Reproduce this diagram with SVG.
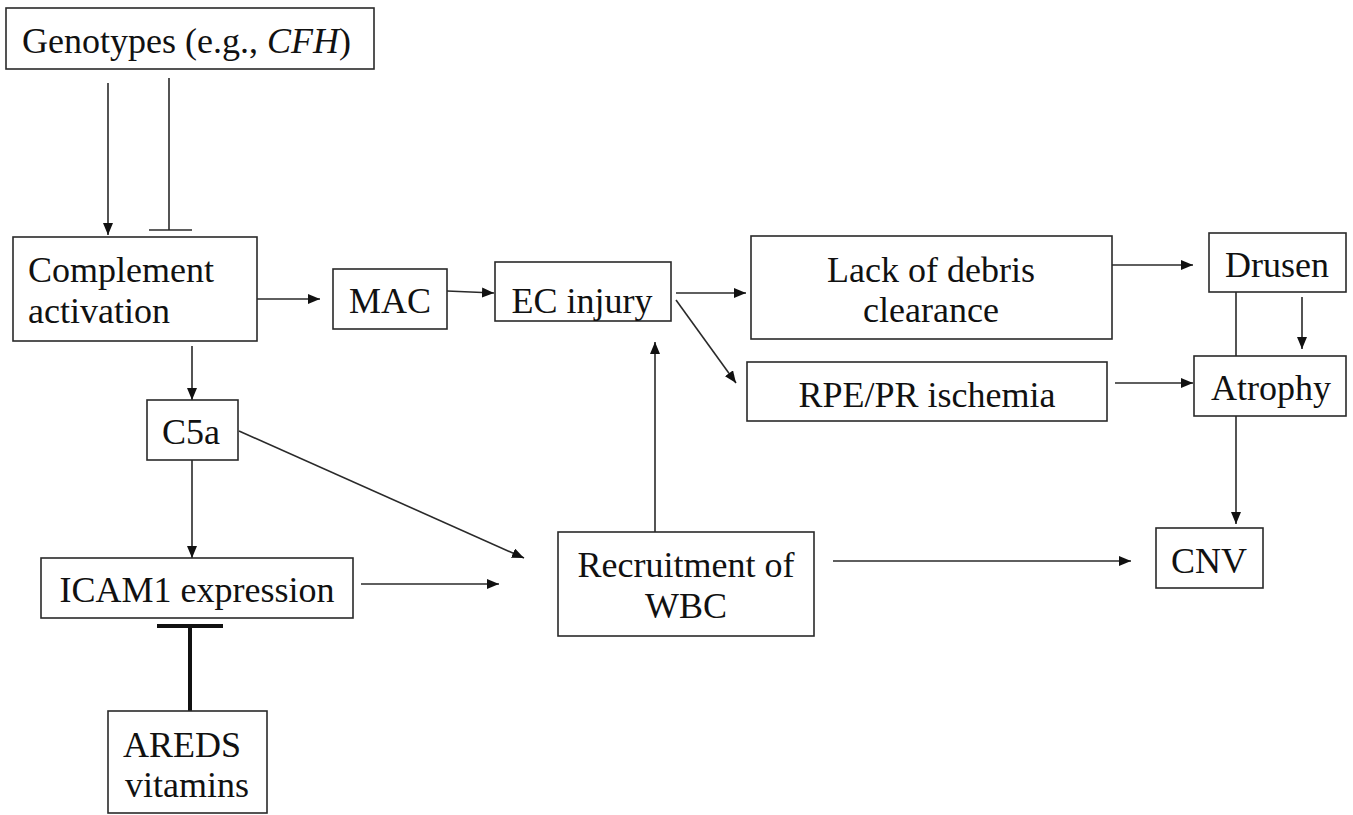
<svg xmlns="http://www.w3.org/2000/svg" width="1353" height="815" viewBox="0 0 1353 815">
<style>
.box{fill:#fff;stroke:#2a2a2a;stroke-width:1.6}
.t{font-size:36px;fill:#111}
.c{text-anchor:middle}
.ln{stroke:#2a2a2a;stroke-width:1.6;fill:none}
.ar{marker-end:url(#ah)}
.thick{stroke:#111;stroke-width:4;fill:none}
</style>
<defs>
<marker id="ah" viewBox="0 0 12 10" refX="12" refY="5" markerWidth="12" markerHeight="10" markerUnits="userSpaceOnUse" orient="auto">
<path d="M0,0 L12,5 L0,10 z" fill="#111"/>
</marker>
</defs>
<rect width="1353" height="815" fill="#fff"/>
<g id="connectors">
<line class="ln ar" x1="108" y1="83" x2="108" y2="235"/>
<line class="ln" x1="169" y1="78" x2="169" y2="230"/>
<line class="ln" x1="149" y1="230" x2="192" y2="230"/>
<line class="ln ar" x1="256" y1="299" x2="320" y2="299"/>
<line class="ln ar" x1="447" y1="291" x2="494" y2="293"/>
<line class="ln ar" x1="676" y1="293" x2="746" y2="293"/>
<line class="ln ar" x1="676" y1="300" x2="736" y2="383"/>
<line class="ln ar" x1="1112" y1="265" x2="1193" y2="265"/>
<line class="ln ar" x1="1115" y1="383" x2="1193" y2="383"/>
<line class="ln" x1="1236" y1="292" x2="1236" y2="356"/>
<line class="ln ar" x1="1302" y1="297" x2="1302" y2="349"/>
<line class="ln ar" x1="1236" y1="416" x2="1236" y2="524"/>
<line class="ln ar" x1="192" y1="346" x2="192" y2="400"/>
<line class="ln ar" x1="192" y1="460" x2="192" y2="558"/>
<line class="ln ar" x1="239" y1="431" x2="524" y2="558"/>
<line class="ln ar" x1="361" y1="584" x2="499" y2="584"/>
<line class="ln ar" x1="655" y1="532" x2="655" y2="342"/>
<line class="ln ar" x1="833" y1="561" x2="1131" y2="561"/>
<line class="thick" x1="190" y1="626" x2="190" y2="711"/>
<line class="thick" x1="157" y1="626" x2="223" y2="626"/>
</g>
<g font-family="Liberation Serif, Times New Roman, serif">
<g id="genotypes">
<rect class="box" x="6" y="8" width="368" height="61"/>
<text class="t" x="22" y="53">Genotypes (e.g., <tspan font-style="italic">CFH</tspan>)</text>
</g>
<g id="complement">
<rect class="box" x="13" y="237" width="244" height="104"/>
<text class="t" x="28" y="282">Complement</text>
<text class="t" x="28" y="323">activation</text>
</g>
<g id="mac">
<rect class="box" x="333" y="269" width="114" height="60"/>
<text class="t c" x="390" y="313">MAC</text>
</g>
<g id="ec">
<rect class="box" x="495" y="262" width="176" height="59"/>
<text class="t c" x="582" y="313">EC injury</text>
</g>
<g id="lack">
<rect class="box" x="751" y="236" width="361" height="103"/>
<text class="t c" x="931" y="282">Lack of debris</text>
<text class="t c" x="931" y="322">clearance</text>
</g>
<g id="rpe">
<rect class="box" x="747" y="362" width="360" height="59"/>
<text class="t c" x="927" y="407">RPE/PR ischemia</text>
</g>
<g id="drusen">
<rect class="box" x="1209" y="233" width="137" height="59"/>
<text class="t c" x="1277" y="277">Drusen</text>
</g>
<g id="atrophy">
<rect class="box" x="1194" y="356" width="152" height="60"/>
<text class="t c" x="1271" y="400">Atrophy</text>
</g>
<g id="cnv">
<rect class="box" x="1156" y="528" width="107" height="60"/>
<text class="t c" x="1209" y="573">CNV</text>
</g>
<g id="c5a">
<rect class="box" x="147" y="400" width="91" height="60"/>
<text class="t c" x="191" y="444">C5a</text>
</g>
<g id="icam">
<rect class="box" x="41" y="558" width="312" height="60"/>
<text class="t c" x="197" y="602">ICAM1 expression</text>
</g>
<g id="recruitment">
<rect class="box" x="558" y="532" width="256" height="104"/>
<text class="t c" x="686" y="577">Recruitment of</text>
<text class="t c" x="686" y="618">WBC</text>
</g>
<g id="areds">
<rect class="box" x="108" y="711" width="159" height="102"/>
<text class="t" x="123" y="757">AREDS</text>
<text class="t" x="125" y="797">vitamins</text>
</g>
</g>
</svg>
